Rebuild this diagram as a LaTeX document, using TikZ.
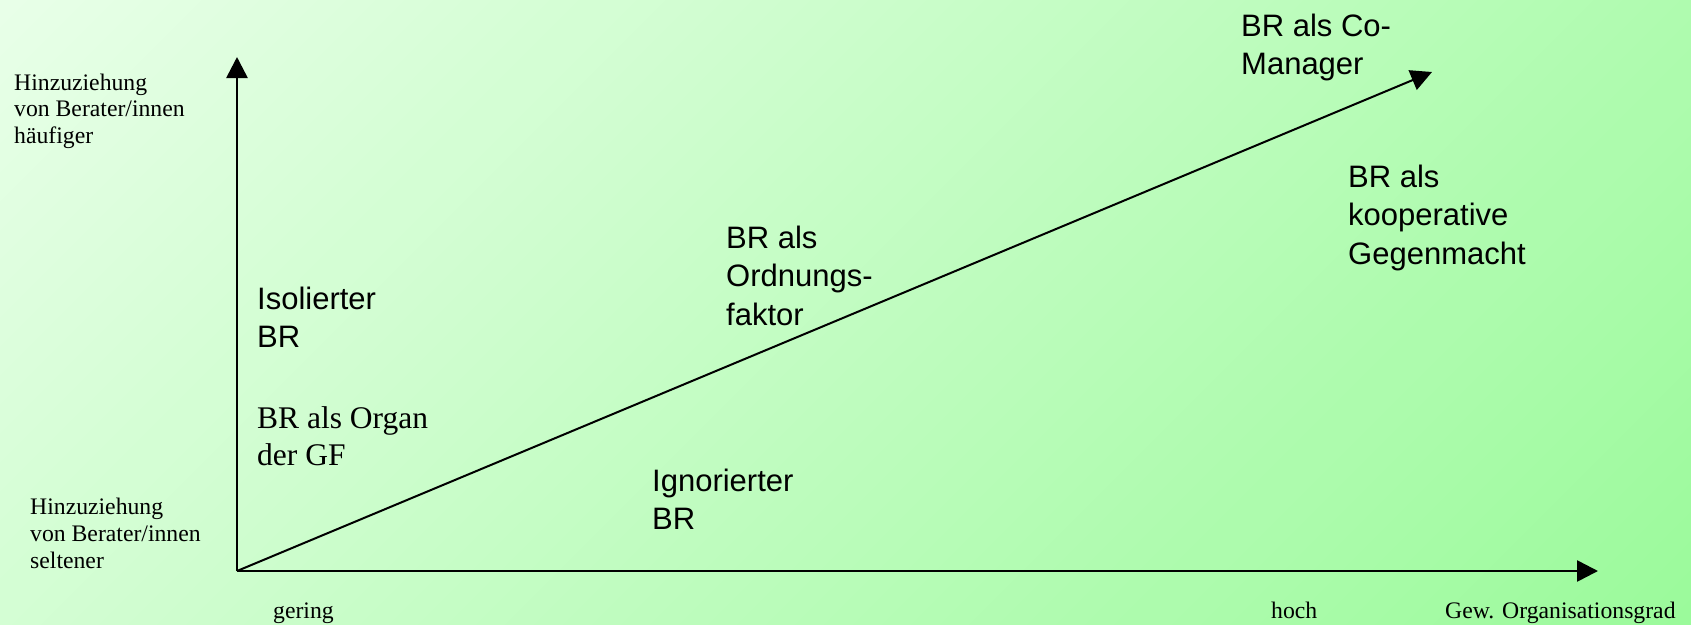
\documentclass[tikz,border=0pt]{standalone}
\usepackage{fontspec}
\setmainfont{Liberation Serif}
\setsansfont{Liberation Sans}
\usetikzlibrary{arrows.meta}
\definecolor{bgA}{RGB}{232,255,232}
\definecolor{bgB}{RGB}{155,250,155}
\tikzset{
  smallserif/.style={anchor=base west, inner sep=0pt, align=left, font=\fontsize{23.7}{26.7}\selectfont\rmfamily},
  bigserif/.style={anchor=base west, inner sep=0pt, align=left, font=\fontsize{31.5}{37}\selectfont\rmfamily},
  bigsans/.style={anchor=base west, inner sep=0pt, align=left, font=\fontsize{31}{38.5}\selectfont\sffamily},
  axis/.style={line width=2.6pt, -{Triangle[length=21pt,width=21pt]}},
  diag/.style={line width=2pt, -{Triangle[length=21pt,width=21pt]}},
}
\begin{document}
\begin{tikzpicture}[x=1pt,y=1pt]
\useasboundingbox (0,0) rectangle (1691,-624);
% background gradient
\begin{scope}
\clip (0,0) rectangle (1691,-624);
\begin{scope}[rotate=-45]
\foreach \i in {0,...,79} {
  \pgfmathsetmacro{\p}{100-\i*100/79}
  \colorlet{gc}{bgA!\p!bgB}
  \fill[gc] (\i*20.5,-450) rectangle (\i*20.5+21.5,1210);
}
\end{scope}
\end{scope}
% axes
\coordinate (O) at (237,-571);
\coordinate (ytip) at (237,-57);
\coordinate (xtip) at (1598,-571);
\coordinate (dtip) at (1432,-72);
\draw[axis] (O) -- (ytip);
\draw[axis] (O) -- (xtip);
\draw[diag] (O) -- (dtip);
% axis labels (anchor = baseline of last line)
\node[smallserif] (yhigh) at (14,-143.4) {Hinzuziehung\\von Berater/innen\\häufiger};
\node[smallserif] (ylow) at (30,-568) {Hinzuziehung\\von Berater/innen\\seltener};
\node[smallserif] (xlow) at (273,-618) {gering};
\node[smallserif] (xhigh) at (1271,-618) {hoch};
\node[smallserif] (xname) at (1445,-618) {Gew. Organisationsgrad};
% quadrant labels
\node[bigsans] (isol) at (257,-347.5) {Isolierter\\BR};
\node[bigserif] (organ) at (257,-465) {BR als Organ\\der GF};
\node[bigsans] (ordn) at (726,-325) {BR als\\Ordnungs-\\faktor};
\node[bigsans] (ign) at (652,-529.5) {Ignorierter\\BR};
\node[bigsans] (koop) at (1348,-264) {BR als\\kooperative\\Gegenmacht};
\node[bigsans] (comgr) at (1241,-74.5) {BR als Co-\\Manager};
\end{tikzpicture}
\end{document}
